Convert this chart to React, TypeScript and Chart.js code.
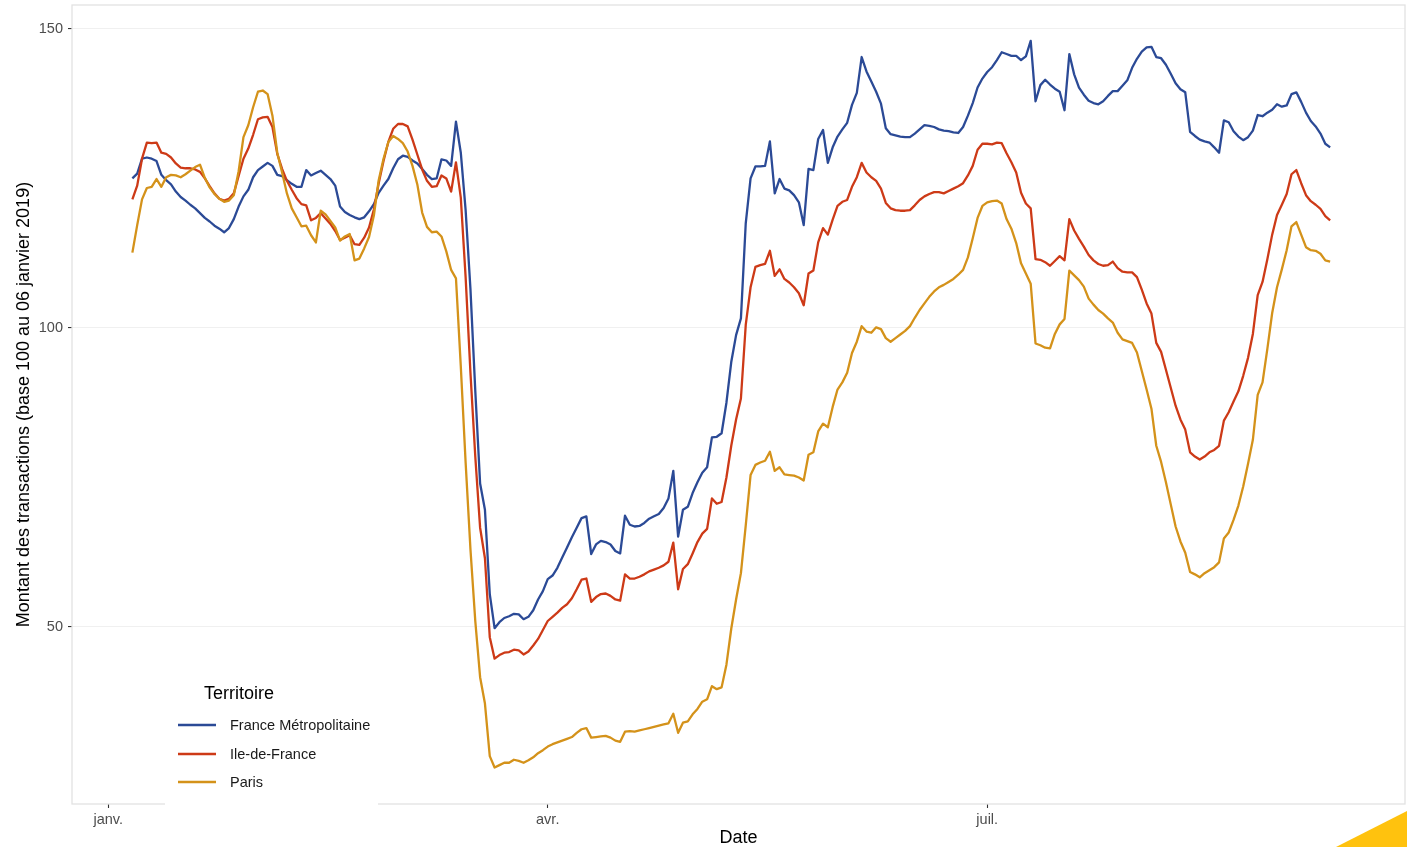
import React, { useEffect, useRef } from 'react';
import { Chart, registerables } from 'chart.js';

Chart.register(...registerables);

// Day index (days since 1 January 2020) of the first observation; one value per day after that.
const startDay = 5;

const xTickValues = [0, 91, 182];
const xTickLabels = ['janv.', 'avr.', 'juil.'];
const yTickValues = [50, 100, 150];

const seriesNames = ['France Métropolitaine', 'Ile-de-France', 'Paris'];
const seriesColors = ['#2B4A96', '#CD3A17', '#D4921A'];

const franceMetro = [
  125.0, 125.8, 128.3, 128.5, 128.3, 127.9, 125.6, 124.7, 124.0, 122.8,
  121.9, 121.3, 120.6, 120.0, 119.2, 118.4, 117.8, 117.1, 116.6, 116.0,
  116.7, 118.2, 120.3, 122.0, 123.1, 125.2, 126.4, 127.0, 127.6, 127.1,
  125.6, 125.4, 124.7, 124.1, 123.6, 123.6, 126.4, 125.5, 125.9, 126.3,
  125.6, 124.9, 123.8, 120.3, 119.4, 118.9, 118.5, 118.2, 118.5, 119.5,
  120.7, 122.6, 123.8, 124.9, 126.7, 128.2, 128.8, 128.6, 128.0, 127.5,
  126.6, 125.6, 124.9, 125.0, 128.2, 128.0, 127.1, 134.5, 129.3, 119.7,
  106.5, 89.5, 74.0, 69.6, 55.5, 49.8, 50.8, 51.5, 51.8, 52.2,
  52.1, 51.3, 51.7, 52.8, 54.6, 56.0, 58.0, 58.6, 59.9, 61.6,
  63.3, 65.0, 66.6, 68.2, 68.5, 62.2, 63.8, 64.4, 64.2, 63.8,
  62.7, 62.3, 68.6, 67.1, 66.8, 66.9, 67.4, 68.1, 68.5, 68.9,
  69.9, 71.5, 76.1, 65.1, 69.6, 70.1, 72.4, 74.2, 75.8, 76.7,
  81.7, 81.8, 82.4, 87.5, 94.3, 98.8, 101.6, 117.5, 125.0, 127.0,
  127.0, 127.1, 131.2, 122.5, 124.9, 123.3, 123.0, 122.2, 121.0, 117.2,
  126.6, 126.4, 131.6, 133.1, 127.6, 130.2, 132.0, 133.2, 134.3, 137.3,
  139.3, 145.3, 142.9, 141.2, 139.5, 137.5, 133.4, 132.4, 132.2, 132.0,
  131.9, 131.9, 132.5, 133.2, 133.9, 133.8, 133.6, 133.2, 133.0, 132.9,
  132.7, 132.6, 133.6, 135.5, 137.6, 140.2, 141.7, 142.8, 143.6, 144.8,
  146.1, 145.8, 145.5, 145.5, 144.8, 145.4, 148.0, 137.9, 140.6, 141.5,
  140.7, 140.0, 139.5, 136.4, 145.8, 142.4, 140.2, 139.0, 138.0, 137.6,
  137.4, 137.9, 138.8, 139.6, 139.6, 140.5, 141.4, 143.5, 145.0, 146.2,
  146.9, 147.0, 145.3, 145.1, 144.0, 142.5, 140.9, 139.9, 139.4, 132.8,
  132.1, 131.5, 131.2, 131.0, 130.2, 129.3, 134.7, 134.4, 132.9, 132.0,
  131.4, 131.9, 133.0, 135.6, 135.4, 136.0, 136.5, 137.4, 137.0, 137.2,
  139.1, 139.4, 137.8, 136.0, 134.6, 133.7, 132.5, 130.8, 130.2,
];

const ileDeFrance = [
  121.5, 123.8, 128.3, 131.0, 130.9, 131.0, 129.3, 129.1, 128.5, 127.5,
  126.8, 126.7, 126.7, 126.5, 126.1, 125.0, 123.7, 122.5, 121.6, 121.3,
  121.6, 122.5, 125.4, 128.3, 130.0, 132.3, 134.9, 135.2, 135.3, 133.6,
  129.1, 126.6, 124.6, 123.1, 121.7, 120.7, 120.5, 118.0, 118.4, 119.2,
  118.3, 117.4, 116.2, 114.7, 115.1, 115.5, 114.0, 113.9, 115.1, 116.8,
  119.8, 124.2, 127.9, 131.1, 133.3, 134.1, 134.1, 133.7, 131.5, 129.0,
  126.5, 124.6, 123.6, 123.7, 125.5, 125.0, 122.8, 127.7, 121.8, 108.5,
  92.5, 78.5, 66.6, 61.5, 48.3, 44.7, 45.3, 45.7, 45.8, 46.2,
  46.1, 45.4, 45.9, 46.9, 48.0, 49.5, 51.0, 51.7, 52.4, 53.2,
  53.8, 54.8, 56.3, 57.9, 58.1, 54.2, 55.0, 55.5, 55.6, 55.2,
  54.6, 54.4, 58.8, 58.1, 58.1, 58.4, 58.8, 59.3, 59.6, 59.9,
  60.3, 60.9, 64.1, 56.3, 59.7, 60.5, 62.3, 64.2, 65.6, 66.4,
  71.5, 70.6, 70.9, 75.0, 80.3, 84.7, 88.2, 100.5, 106.8, 110.2,
  110.5, 110.7, 112.9, 108.7, 109.8, 108.2, 107.6, 106.8, 105.8, 103.8,
  109.1, 109.6, 114.3, 116.7, 115.6, 118.1, 120.4, 121.1, 121.4, 123.6,
  125.2, 127.6, 126.0, 125.2, 124.6, 123.3, 120.9, 120.0, 119.7, 119.6,
  119.6, 119.7, 120.5, 121.4, 122.0, 122.4, 122.7, 122.7, 122.5, 122.9,
  123.3, 123.7, 124.2, 125.5, 127.1, 129.8, 130.8, 130.8, 130.7, 131.0,
  130.9, 129.2, 127.7, 126.0, 122.6, 120.8, 120.0, 111.5, 111.4, 111.0,
  110.4, 111.2, 112.0, 111.3, 118.2, 116.3, 114.9, 113.6, 112.2, 111.3,
  110.7, 110.4, 110.5, 111.1, 110.0, 109.4, 109.3, 109.3, 108.5, 106.4,
  104.1, 102.4, 97.5, 96.0, 93.0, 90.0, 87.0, 84.7, 83.0, 79.2,
  78.5, 78.0, 78.5, 79.2, 79.6, 80.3, 84.5, 85.9, 87.7, 89.4,
  92.0, 95.0, 99.0, 105.5, 107.7, 111.5, 115.6, 118.9, 120.6, 122.4,
  125.7, 126.4, 124.2, 122.2, 121.2, 120.6, 119.9, 118.7, 118.0,
];

const paris = [
  112.6, 117.2, 121.5, 123.4, 123.6, 124.9, 123.6, 125.2, 125.6, 125.5,
  125.2, 125.7, 126.3, 126.9, 127.3, 125.1, 123.5, 122.4, 121.6, 121.1,
  121.3, 122.2, 126.2, 131.9, 133.9, 136.9, 139.5, 139.7, 139.1, 135.5,
  129.3, 126.0, 122.5, 120.0, 118.5, 117.0, 117.1, 115.5, 114.3, 119.6,
  119.0, 117.9, 116.8, 114.6, 115.3, 115.7, 111.3, 111.6, 113.3, 115.2,
  118.8, 124.7, 128.3, 131.1, 132.1, 131.6, 130.9, 129.5, 127.1, 124.0,
  119.3, 116.9, 116.0, 116.1, 115.3, 112.8, 109.7, 108.3, 93.6, 77.5,
  63.0, 51.0, 41.6, 37.2, 28.4, 26.5, 26.9, 27.3, 27.3, 27.8,
  27.6, 27.3, 27.7, 28.2, 28.9, 29.4, 30.0, 30.4, 30.7, 31.0,
  31.3, 31.6, 32.3, 32.9, 33.1, 31.5, 31.6, 31.7, 31.8, 31.5,
  31.0, 30.8, 32.5, 32.6, 32.5, 32.7, 32.9, 33.1, 33.3, 33.5,
  33.7, 33.9, 35.5, 32.3, 34.0, 34.2, 35.4, 36.3, 37.5, 37.9,
  40.1, 39.6, 39.9, 43.7, 49.7, 54.6, 59.0, 67.0, 75.4, 77.1,
  77.5, 77.8, 79.3, 76.1, 76.7, 75.5, 75.4, 75.3, 75.0, 74.5,
  78.8, 79.2, 82.7, 84.0, 83.4, 86.8, 89.7, 90.9, 92.5, 95.8,
  97.7, 100.3, 99.4, 99.2, 100.1, 99.8, 98.3, 97.7, 98.3, 98.9,
  99.5, 100.3, 101.7, 103.0, 104.1, 105.2, 106.1, 106.8, 107.2, 107.7,
  108.2, 108.9, 109.7, 111.8, 115.0, 118.4, 120.4, 121.0, 121.2, 121.3,
  120.8, 118.2, 116.6, 114.2, 110.8, 109.1, 107.4, 97.4, 97.1, 96.7,
  96.6, 99.0, 100.6, 101.5, 109.6, 108.8, 108.0, 106.9, 104.9, 103.9,
  103.0, 102.4, 101.6, 100.9, 99.2, 98.1, 97.8, 97.5, 95.9, 92.8,
  89.7, 86.5, 80.3, 77.6, 74.2, 70.5, 66.8, 64.3, 62.4, 59.2,
  58.8, 58.3, 59.0, 59.5, 60.0, 60.8, 64.8, 65.8, 67.9, 70.3,
  73.5, 77.3, 81.3, 88.8, 90.9, 96.5, 102.5, 106.8, 109.8, 113.0,
  117.0, 117.7, 115.6, 113.5, 113.0, 112.9, 112.4, 111.3, 111.1,
];

const FONT = "'Liberation Sans', Arial, Helvetica, sans-serif";

const toPoints = (vals: number[]) => vals.map((v, i) => ({ x: startDay + i, y: v }));

const panelPlugin = {
  id: 'panelBorder',
  beforeDatasetsDraw(chart: any) {
    const { ctx, chartArea: a } = chart;
    ctx.save();
    ctx.strokeStyle = '#e2e2e2';
    ctx.lineWidth = 1.3;
    ctx.strokeRect(a.left, a.top, a.right - a.left, a.bottom - a.top);
    ctx.restore();
  },
};

const legendPlugin = {
  id: 'insideLegend',
  afterDraw(chart: any) {
    const { ctx } = chart;
    ctx.save();
    ctx.fillStyle = '#ffffff';
    ctx.fillRect(165, 668, 213, 140);
    ctx.fillStyle = '#000000';
    ctx.textBaseline = 'middle';
    ctx.textAlign = 'left';
    ctx.font = `18px ${FONT}`;
    ctx.fillText('Territoire', 204, 694);
    const rows = [725, 754, 782];
    seriesNames.forEach((name, i) => {
      ctx.strokeStyle = seriesColors[i];
      ctx.lineWidth = 2.3;
      ctx.beginPath();
      ctx.moveTo(178, rows[i]);
      ctx.lineTo(216, rows[i]);
      ctx.stroke();
      ctx.fillStyle = '#1a1a1a';
      ctx.font = `14.5px ${FONT}`;
      ctx.fillText(name, 230, rows[i] + 1);
    });
    // corner decoration
    ctx.fillStyle = '#FFC20E';
    ctx.beginPath();
    ctx.moveTo(1336, 847);
    ctx.lineTo(1407, 811);
    ctx.lineTo(1407, 847);
    ctx.closePath();
    ctx.fill();
    ctx.restore();
  },
};

export default function App() {
  const canvasRef = useRef<HTMLCanvasElement | null>(null);

  useEffect(() => {
    if (!canvasRef.current) return;
    const allSeries = [franceMetro, ileDeFrance, paris];
    const chart = new Chart(canvasRef.current, {
      type: 'line',
      data: {
        datasets: allSeries.map((vals, i) => ({
          label: seriesNames[i],
          data: toPoints(vals),
          borderColor: seriesColors[i],
          backgroundColor: seriesColors[i],
          borderWidth: 2.3,
          pointRadius: 0,
          tension: 0,
          fill: false,
          borderJoinStyle: 'round' as const,
          order: 2 - i,
        })),
      },
      options: {
        animation: false,
        responsive: true,
        maintainAspectRatio: false,
        layout: { padding: { top: 5, right: 2, left: 0, bottom: 0 } },
        plugins: {
          legend: { display: false },
          tooltip: { enabled: false },
        },
        scales: {
          x: {
            type: 'linear',
            min: -7.5,
            max: 268.5,
            afterBuildTicks: (scale: any) => {
              scale.ticks = xTickValues.map((v) => ({ value: v }));
            },
            afterFit: (scale: any) => {
              scale.height = 43;
              scale.paddingLeft = 0;
              scale.paddingRight = 0;
            },
            ticks: {
              autoSkip: false,
              maxRotation: 0,
              padding: 3,
              color: '#4d4d4d',
              font: { family: FONT, size: 14.5 },
              callback: (value: any) => {
                const idx = xTickValues.indexOf(Number(value));
                return idx >= 0 ? xTickLabels[idx] : '';
              },
            },
            grid: {
              drawOnChartArea: false,
              drawTicks: true,
              tickLength: 4,
              tickColor: '#333333',
              tickWidth: 1.1,
            },
            border: { display: false },
            title: {
              display: true,
              text: 'Date',
              color: '#000000',
              font: { family: FONT, size: 18, lineHeight: 1 },
              padding: { top: 0, bottom: 0 },
            },
          },
          y: {
            type: 'linear',
            min: 20.4,
            max: 154.0,
            afterBuildTicks: (scale: any) => {
              scale.ticks = yTickValues.map((v) => ({ value: v }));
            },
            afterFit: (scale: any) => {
              scale.width = 72;
              scale.paddingTop = 0;
              scale.paddingBottom = 0;
            },
            ticks: {
              padding: 5,
              color: '#4d4d4d',
              font: { family: FONT, size: 14.5 },
              callback: (value: any) => String(value),
            },
            grid: {
              color: '#f0f0f0',
              lineWidth: 1.1,
              drawTicks: true,
              tickLength: 4,
              tickColor: '#333333',
              tickWidth: 1.1,
            },
            border: { display: false },
            title: {
              display: true,
              text: 'Montant des transactions (base 100 au 06 janvier 2019)',
              color: '#000000',
              font: { family: FONT, size: 18, lineHeight: 1 },
              padding: { top: 15, bottom: 0 },
            },
          },
        },
      },
      plugins: [panelPlugin, legendPlugin],
    });
    return () => chart.destroy();
  }, []);

  return (
    <div style={{ position: 'absolute', left: 0, top: 0, width: 1407, height: 847, background: '#ffffff' }}>
      <canvas ref={canvasRef} />
    </div>
  );
}
